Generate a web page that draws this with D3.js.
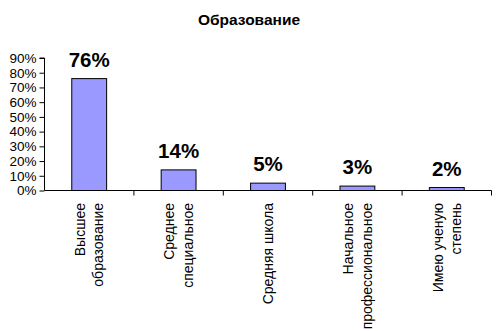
<!DOCTYPE html>
<html>
<head>
<meta charset="utf-8">
<script src="https://cdn.jsdelivr.net/npm/d3@7"></script>
<style>
  html, body { margin: 0; padding: 0; background: #fff; }
  svg { display: block; font-family: "Liberation Sans", Arial, sans-serif; }
</style>
</head>
<body>
<svg id="chart" width="500" height="331"></svg>
<script>
// Education breakdown
const title = "Образование";
const categories = [
  ["Высшее", "образование"],
  ["Среднее", "специальное"],
  ["Средняя школа"],
  ["Начальное", "профессиональное"],
  ["Имею ученую", "степень"]
];
const values = [0.76, 0.14, 0.05, 0.03, 0.02];
const valueLabels = ["76%", "14%", "5%", "3%", "2%"];
const yTicks = [0, 0.1, 0.2, 0.3, 0.4, 0.5, 0.6, 0.7, 0.8, 0.9];

const svg = d3.select("#chart");
const plotLeft = 44.5, plotRight = 491.5, plotTop = 58, plotBottom = 190.5;

const x = d3.scaleBand()
  .domain(d3.range(categories.length))
  .range([plotLeft, plotRight])
  .paddingInner(0).paddingOuter(0);

const y = d3.scaleLinear()
  .domain([0, 0.9])
  .range([plotBottom, plotTop]);

// title
svg.append("text")
  .attr("x", 249).attr("y", 25)
  .attr("text-anchor", "middle")
  .attr("font-size", 15.5).attr("font-weight", "bold")
  .text(title);

// y axis
const yAxis = d3.axisLeft(y)
  .tickValues(yTicks)
  .tickSize(5)
  .tickPadding(3)
  .tickFormat(d3.format(".0%"));
const gy = svg.append("g")
  .attr("transform", `translate(${plotLeft},0)`)
  .call(yAxis);
gy.select(".domain").attr("stroke", "#000").attr("d", `M-5,${y(0.9)}H0V${plotBottom}`);
gy.selectAll(".tick line").attr("stroke", "#000");
gy.selectAll(".tick text").attr("font-size", 13.5).attr("fill", "#000")
  .attr("font-family", "Liberation Sans, Arial, sans-serif");

// x axis baseline with tick marks at category boundaries
svg.append("line")
  .attr("x1", plotLeft).attr("x2", plotRight)
  .attr("y1", plotBottom).attr("y2", plotBottom)
  .attr("stroke", "#000");
const bounds = d3.range(categories.length + 1).map(i =>
  i < categories.length ? x(i) : x(categories.length - 1) + x.bandwidth());
svg.append("g").selectAll("line")
  .data(bounds.slice(1))
  .join("line")
  .attr("x1", d => d).attr("x2", d => d)
  .attr("y1", plotBottom).attr("y2", plotBottom + 5)
  .attr("stroke", "#000");

// bars
const barW = x.bandwidth() * 0.39;
svg.append("g").selectAll("rect")
  .data(values)
  .join("rect")
  .attr("x", (d, i) => x(i) + (x.bandwidth() - barW) / 2)
  .attr("y", d => y(d))
  .attr("width", barW)
  .attr("height", d => plotBottom - y(d))
  .attr("fill", "#9999ff")
  .attr("stroke", "#000")
  .attr("stroke-width", 1);

// value labels
svg.append("g").selectAll("text")
  .data(values)
  .join("text")
  .attr("x", (d, i) => x(i) + x.bandwidth() / 2)
  .attr("y", d => y(d) - 12)
  .attr("text-anchor", "middle")
  .attr("font-size", 20.5).attr("font-weight", "bold")
  .text((d, i) => valueLabels[i]);

// rotated category labels
const lineGap = 18.5;
const cat = svg.append("g").selectAll("g")
  .data(categories)
  .join("g");
cat.each(function(lines, i) {
  const cx = x(i) + x.bandwidth() / 2;
  const g = d3.select(this);
  lines.forEach((t, j) => {
    const bx = cx + (j - (lines.length - 1) / 2) * lineGap + 5;
    g.append("text")
      .attr("transform", `translate(${bx},203) rotate(-90)`)
      .attr("text-anchor", "end")
      .attr("font-size", 14)
      .text(t);
  });
});
</script>
</body>
</html>
